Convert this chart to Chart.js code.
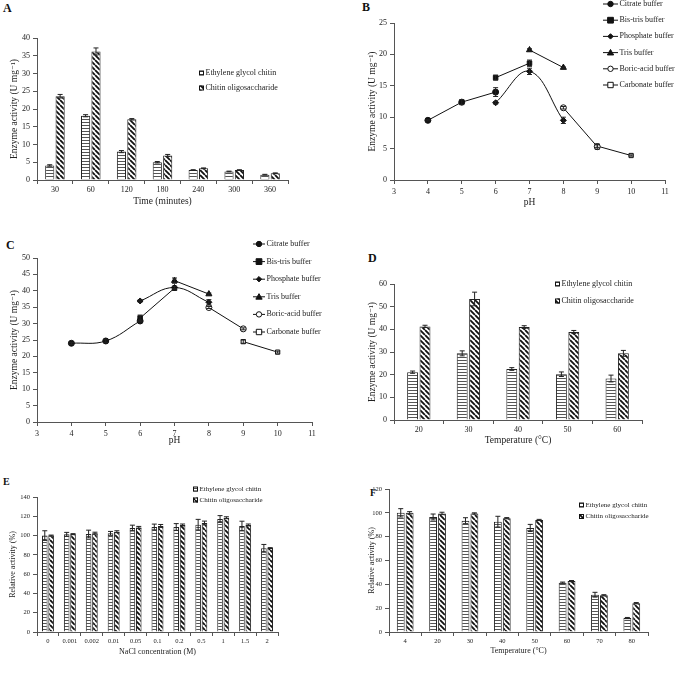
<!DOCTYPE html>
<html>
<head>
<meta charset="utf-8">
<script src="https://cdn.jsdelivr.net/npm/chart.js"></script>
<style>
html, body { margin: 0; padding: 0; background: #fff; }
body { width: 676px; height: 673px; position: relative; overflow: hidden; }
canvas { position: absolute; }
.tag { position: absolute; font: bold 12px 'Liberation Serif', serif; color: #111; }
.tag.small { font-size: 10px; }
</style>
</head>
<body>
<div class="tag" style="left:3px;top:1px">A</div>
<div class="tag" style="left:362px;top:0px">B</div>
<div class="tag" style="left:6px;top:238px">C</div>
<div class="tag" style="left:368px;top:251px">D</div>
<div class="tag small" style="left:3px;top:476px">E</div>
<div class="tag small" style="left:370px;top:487px">F</div>
<canvas id="chartA"></canvas>
<canvas id="chartB"></canvas>
<canvas id="chartC"></canvas>
<canvas id="chartD"></canvas>
<canvas id="chartE"></canvas>
<canvas id="chartF"></canvas>
<script>
// ---- data ----
// A: time course
const timeLabels = ['30', '60', '120', '180', '240', '300', '360'];
const timeEgc = [4.1, 18.1, 8.0, 5.0, 2.8, 2.4, 1.5];
const timeEgcErr = [0.2, 0.3, 0.3, 0.2, 0.1, 0.1, 0.1];
const timeCo = [23.6, 36.2, 17.1, 6.9, 3.3, 2.8, 1.9];
const timeCoErr = [0.5, 1.0, 0.2, 0.3, 0.1, 0.1, 0.1];

// B / C: pH profiles, one pH list per buffer
const citratePh = [4, 5, 6];
const bistrisPh = [6, 7];
const phosphatePh = [6, 7, 8];
const trisPh = [7, 8];
const boricPh = [8, 9];
const carbonatePh = [9, 10];

const citrateB = [9.5, 12.4, 14.0];
const citrateBErr = [0.1, 0.4, 0.7];
const bistrisB = [16.3, 18.6];
const bistrisBErr = [0.4, 0.5];
const phosphateB = [12.3, 17.3, 9.5];
const phosphateBErr = [0.2, 0.5, 0.5];
const trisB = [20.7, 17.9];
const trisBErr = [0.2, 0.1];
const boricB = [11.5, 5.3];
const boricBErr = [0.2, 0.4];
const carbonateB = [5.4, 3.9];
const carbonateBErr = [0.2, 0.1];

const citrateC = [24.0, 24.7, 30.8];
const citrateCErr = [0.3, 0.4, 0.3];
const bistrisC = [31.7, 40.8];
const bistrisCErr = [0.9, 0.5];
const phosphateC = [36.9, 41.0, 36.5];
const phosphateCErr = [0.3, 0.3, 0.8];
const trisC = [43.1, 39.0];
const trisCErr = [0.8, 0.3];
const boricC = [34.9, 28.4];
const boricCErr = [0.3, 0.3];
const carbonateC = [24.5, 21.3];
const carbonateCErr = [0.5, 0.3];

// D: temperature optimum
const tempLabelsD = ['20', '30', '40', '50', '60'];
const tempEgcD = [21.1, 29.4, 22.5, 20.2, 18.3];
const tempEgcDErr = [0.5, 1.1, 0.6, 1.0, 1.5];
const tempCoD = [41.3, 53.4, 41.0, 38.8, 29.4];
const tempCoDErr = [0.5, 3.0, 0.6, 0.7, 1.3];

// E: NaCl tolerance
const naclLabels = ['0', '0.001', '0.002', '0.01', '0.05', '0.1', '0.2', '0.5', '1', '1.5', '2'];
const naclEgc = [100, 101.3, 101.6, 102.3, 107.8, 108.9, 108.9, 111.3, 117.2, 109.9, 86.8];
const naclEgcErr = [5, 2, 4, 2, 3, 3, 3.5, 5.5, 3.5, 5, 4];
const naclCo = [100, 101.5, 102.5, 104, 108.5, 110, 111, 113, 118.5, 111, 87];
const naclCoErr = [0.5, 0.5, 1, 1, 1, 1.5, 1, 2, 1, 1, 0.5];

// F: thermal stability
const tempLabelsF = ['4', '20', '30', '40', '50', '60', '70', '80'];
const stabEgc = [100, 96.5, 93.4, 92.6, 87.3, 41.4, 31.3, 11.7];
const stabEgcErr = [3.5, 2.5, 2.5, 4.5, 3, 0.5, 2, 0.5];
const stabCo = [100, 99.5, 99.5, 95.5, 94, 42.7, 30.8, 24.2];
const stabCoErr = [1, 1, 0.5, 0.5, 0.5, 0.5, 0.5, 0.5];

// ---- styling helpers ----
const SERIF = "'Liberation Serif', 'DejaVu Serif', serif";
Chart.defaults.font.family = SERIF;
Chart.defaults.color = '#222';
const AXIS = '#555';

function hLines() {
    const t = document.createElement('canvas');
    t.width = 4; t.height = 3;
    const c = t.getContext('2d');
    c.fillStyle = '#fff'; c.fillRect(0, 0, 4, 3);
    c.fillStyle = '#555'; c.fillRect(0, 0, 4, 1);
    return c.createPattern(t, 'repeat');
}

function diagLines() {
    const t = document.createElement('canvas');
    t.width = 5; t.height = 5;
    const c = t.getContext('2d');
    c.fillStyle = '#fff'; c.fillRect(0, 0, 5, 5);
    c.strokeStyle = '#111'; c.lineWidth = 1.8;
    c.beginPath();
    [-5, 0, 5].forEach(k => { c.moveTo(k, 0); c.lineTo(k + 5, 5); });
    c.stroke();
    return c.createPattern(t, 'repeat');
}

function drawMarker(ctx, style, r, fill, x, y) {
    ctx.beginPath();
    if (style === 'circle') {
        ctx.arc(x, y, r, 0, Math.PI * 2);
    } else if (style === 'rect') {
        ctx.rect(x - r, y - r, 2 * r, 2 * r);
    } else if (style === 'rectRot') {
        ctx.moveTo(x, y - r); ctx.lineTo(x + r, y); ctx.lineTo(x, y + r); ctx.lineTo(x - r, y); ctx.closePath();
    } else if (style === 'triangle') {
        ctx.moveTo(x, y - r); ctx.lineTo(x + r, y + r * 0.75); ctx.lineTo(x - r, y + r * 0.75); ctx.closePath();
    }
    ctx.fillStyle = fill; ctx.fill();
    ctx.strokeStyle = '#111'; ctx.lineWidth = 1; ctx.stroke();
}

// error bars from dataset.errors
const errorBarPlugin = {
    id: 'errorBars',
    afterDatasetsDraw(chart) {
        const ctx = chart.ctx;
        const yScale = chart.scales.y;
        ctx.save();
        ctx.strokeStyle = '#222';
        ctx.lineWidth = 1;
        chart.data.datasets.forEach((ds, i) => {
            if (!ds.errors) return;
            chart.getDatasetMeta(i).data.forEach((el, j) => {
                const err = ds.errors[j];
                if (!err) return;
                const raw = ds.data[j];
                const v = typeof raw === 'object' ? raw.y : raw;
                const yTop = yScale.getPixelForValue(v + err);
                const yBot = yScale.getPixelForValue(v - err);
                ctx.beginPath();
                ctx.moveTo(el.x, yTop); ctx.lineTo(el.x, yBot);
                ctx.moveTo(el.x - 2.5, yTop); ctx.lineTo(el.x + 2.5, yTop);
                ctx.moveTo(el.x - 2.5, yBot); ctx.lineTo(el.x + 2.5, yBot);
                ctx.stroke();
            });
        });
        ctx.restore();
    }
};

// legend drawn at figure coordinates
const panelLegendPlugin = {
    id: 'panelLegend',
    afterDraw(chart, args, opts) {
        if (opts.x === undefined) return;
        const ctx = chart.ctx;
        ctx.save();
        ctx.font = opts.fontSize + 'px ' + SERIF;
        ctx.textBaseline = 'middle';
        chart.data.datasets.forEach((ds, i) => {
            const x = opts.x - opts.ox;
            const y = opts.y - opts.oy + i * opts.dy;
            let tx;
            if (chart.config.type === 'bar') {
                const s = opts.icon;
                ctx.fillStyle = ds.backgroundColor;
                ctx.fillRect(x, y - s / 2, s, s);
                ctx.strokeStyle = '#111'; ctx.lineWidth = 1;
                ctx.strokeRect(x + 0.5, y - s / 2 + 0.5, s - 1, s - 1);
                tx = x + s + 1.5;
            } else {
                const len = opts.line;
                ctx.strokeStyle = '#111'; ctx.lineWidth = 1;
                ctx.beginPath(); ctx.moveTo(x, y); ctx.lineTo(x + len, y); ctx.stroke();
                drawMarker(ctx, ds.pointStyle, ds.pointRadius * 0.9, ds.pointBackgroundColor, x + len / 2, y);
                tx = x + len + 1.5;
            }
            ctx.fillStyle = '#222';
            ctx.fillText(ds.label, tx, y);
        });
        ctx.restore();
    }
};

Chart.register(errorBarPlugin, panelLegendPlugin);

function placeCanvas(id, box) {
    const c = document.getElementById(id);
    c.width = box.w; c.height = box.h;
    c.style.left = box.x + 'px'; c.style.top = box.y + 'px';
    c.style.width = box.w + 'px'; c.style.height = box.h + 'px';
    return c;
}

function yAxis(p) {
    return {
        min: p.min, max: p.max,
        ticks: { stepSize: p.step, font: { size: p.tick }, padding: 3 },
        grid: { display: true, drawOnChartArea: false, tickLength: 4, color: AXIS },
        border: { color: AXIS },
        title: { display: true, text: p.title, font: { size: p.titleSize }, padding: { top: p.titlePad, bottom: 0 } },
        afterFit(s) { s.width = p.w; }
    };
}

function xAxis(p) {
    const ax = {
        ticks: { font: { size: p.tick }, padding: 1, maxRotation: 0, autoSkip: false },
        grid: { display: true, drawOnChartArea: false, tickLength: 4, color: AXIS },
        border: { color: AXIS },
        title: { display: true, text: p.title, font: { size: p.titleSize }, padding: { top: 0, bottom: 0 } },
        afterFit(s) { s.height = p.h; }
    };
    if (p.linear) {
        ax.type = 'linear';
        ax.min = p.min; ax.max = p.max;
        ax.ticks.stepSize = 1;
        ax.ticks.padding = 3;
    }
    return ax;
}

function barPanel(id, box, p) {
    const egcFill = hLines();
    const coFill = diagLines();
    return new Chart(placeCanvas(id, box), {
        type: 'bar',
        data: {
            labels: p.labels,
            datasets: [
                { label: 'Ethylene glycol chitin', data: p.egc, errors: p.egcErr,
                  backgroundColor: egcFill, borderColor: '#222', borderWidth: 1,
                  barPercentage: 0.88, categoryPercentage: p.cat },
                { label: 'Chitin oligosaccharide', data: p.co, errors: p.coErr,
                  backgroundColor: coFill, borderColor: '#222', borderWidth: 1,
                  barPercentage: 0.88, categoryPercentage: p.cat }
            ]
        },
        options: {
            responsive: false,
            animation: false,
            layout: { padding: box.pad },
            plugins: {
                legend: { display: false },
                tooltip: { enabled: false },
                panelLegend: Object.assign({ ox: box.x, oy: box.y }, p.legend)
            },
            scales: { x: xAxis(p.xa), y: yAxis(p.ya) }
        }
    });
}

function pts(xs, ys) {
    return xs.map((x, i) => ({ x: x, y: ys[i] }));
}

function lineSet(label, xs, ys, errs, style, radius, fill, tension) {
    return {
        label: label, data: pts(xs, ys), errors: errs,
        borderColor: '#111', borderWidth: 1, tension: tension,
        pointStyle: style, pointRadius: radius,
        pointBackgroundColor: fill, pointBorderColor: '#111', pointBorderWidth: 1
    };
}

function phPanel(id, box, d, p) {
    return new Chart(placeCanvas(id, box), {
        type: 'line',
        data: {
            datasets: [
                lineSet('Citrate buffer', citratePh, d.citrate, d.citrateErr, 'circle', 3, '#111', p.citTension),
                lineSet('Bis-tris buffer', bistrisPh, d.bistris, d.bistrisErr, 'rect', 3.2, '#111', 0),
                lineSet('Phosphate buffer', phosphatePh, d.phosphate, d.phosphateErr, 'rectRot', 3, '#111', 0.4),
                lineSet('Tris buffer', trisPh, d.tris, d.trisErr, 'triangle', 3.5, '#111', 0),
                lineSet('Boric-acid buffer', boricPh, d.boric, d.boricErr, 'circle', 3, '#fff', 0),
                lineSet('Carbonate buffer', carbonatePh, d.carbonate, d.carbonateErr, 'rect', 3, '#fff', 0)
            ]
        },
        options: {
            responsive: false,
            animation: false,
            layout: { padding: box.pad },
            plugins: {
                legend: { display: false },
                tooltip: { enabled: false },
                panelLegend: Object.assign({ ox: box.x, oy: box.y }, p.legend)
            },
            scales: { x: xAxis(p.xa), y: yAxis(p.ya) }
        }
    });
}

const enzymeTitle = 'Enzyme activity (U mg\u207B\u00B9)';

// A
barPanel('chartA', { x: 0, y: 20, w: 300, h: 187, pad: { top: 18, right: 12, left: 0, bottom: 0 } }, {
    labels: timeLabels, egc: timeEgc, egcErr: timeEgcErr, co: timeCo, coErr: timeCoErr, cat: 0.58,
    xa: { title: 'Time (minutes)', tick: 8, titleSize: 9.5, h: 27 },
    ya: { min: 0, max: 40, step: 5, tick: 8, title: enzymeTitle, titleSize: 9.5, titlePad: 9, w: 37 },
    legend: { x: 199, y: 73, dy: 15, fontSize: 8, icon: 5 }
});

// B
phPanel('chartB', { x: 340, y: 0, w: 336, h: 208, pad: { top: 23, right: 11, left: 0, bottom: 0 } }, {
    citrate: citrateB, citrateErr: citrateBErr, bistris: bistrisB, bistrisErr: bistrisBErr,
    phosphate: phosphateB, phosphateErr: phosphateBErr, tris: trisB, trisErr: trisBErr,
    boric: boricB, boricErr: boricBErr, carbonate: carbonateB, carbonateErr: carbonateBErr
}, {
    citTension: 0,
    xa: { linear: true, min: 3, max: 11, title: 'pH', tick: 8, titleSize: 9.5, h: 28 },
    ya: { min: 0, max: 25, step: 5, tick: 8, title: enzymeTitle, titleSize: 9.5, titlePad: 27, w: 54 },
    legend: { x: 603, y: 4, dy: 16.2, fontSize: 8, line: 15 }
});

// C
phPanel('chartC', { x: 0, y: 220, w: 330, h: 226, pad: { top: 38, right: 18, left: 0, bottom: 0 } }, {
    citrate: citrateC, citrateErr: citrateCErr, bistris: bistrisC, bistrisErr: bistrisCErr,
    phosphate: phosphateC, phosphateErr: phosphateCErr, tris: trisC, trisErr: trisCErr,
    boric: boricC, boricErr: boricCErr, carbonate: carbonateC, carbonateErr: carbonateCErr
}, {
    citTension: 0.4,
    xa: { linear: true, min: 3, max: 11, title: 'pH', tick: 8, titleSize: 9.5, h: 24 },
    ya: { min: 0, max: 50, step: 5, tick: 8, title: enzymeTitle, titleSize: 9.5, titlePad: 9, w: 37 },
    legend: { x: 253, y: 244, dy: 17.6, fontSize: 8, line: 12 }
});

// D
barPanel('chartD', { x: 340, y: 240, w: 336, h: 206, pad: { top: 44, right: 34, left: 0, bottom: 0 } }, {
    labels: tempLabelsD, egc: tempEgcD, egcErr: tempEgcDErr, co: tempCoD, coErr: tempCoDErr, cat: 0.5,
    xa: { title: 'Temperature (\u00B0C)', tick: 8, titleSize: 9.5, h: 26 },
    ya: { min: 0, max: 60, step: 10, tick: 8, title: enzymeTitle, titleSize: 9.5, titlePad: 27, w: 54 },
    legend: { x: 555, y: 284, dy: 17, fontSize: 8, icon: 5 }
});

// E
barPanel('chartE', { x: 0, y: 470, w: 300, h: 187, pad: { top: 27, right: 22, left: 0, bottom: 0 } }, {
    labels: naclLabels, egc: naclEgc, egcErr: naclEgcErr, co: naclCo, coErr: naclCoErr, cat: 0.58,
    xa: { title: 'NaCl concentration (M)', tick: 6.5, titleSize: 8, h: 25 },
    ya: { min: 0, max: 140, step: 20, tick: 6.5, title: 'Relative activity (%)', titleSize: 8, titlePad: 8, w: 37 },
    legend: { x: 193, y: 489, dy: 11, fontSize: 7, icon: 5 }
});

// F
barPanel('chartF', { x: 340, y: 470, w: 336, h: 186, pad: { top: 19, right: 28, left: 0, bottom: 0 } }, {
    labels: tempLabelsF, egc: stabEgc, egcErr: stabEgcErr, co: stabCo, coErr: stabCoErr, cat: 0.55,
    xa: { title: 'Temperature (\u00B0C)', tick: 6.5, titleSize: 8, h: 24 },
    ya: { min: 0, max: 120, step: 20, tick: 6.5, title: 'Relative activity (%)', titleSize: 8, titlePad: 27, w: 49 },
    legend: { x: 579, y: 505, dy: 11.5, fontSize: 7, icon: 5 }
});
</script>
</body>
</html>
